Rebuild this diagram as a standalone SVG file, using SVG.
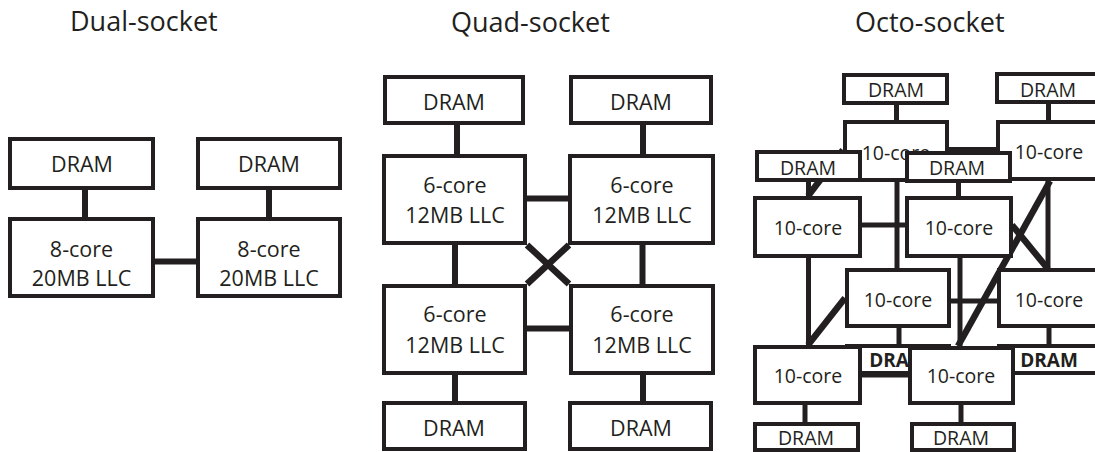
<svg xmlns="http://www.w3.org/2000/svg" width="1095" height="452" viewBox="0 0 1095 452">
<style>
.box{fill:#fff;stroke:#231f20;stroke-width:4}
.t{font-family:"Open Sans","Liberation Sans",sans-serif;fill:#231f20;text-anchor:middle}
.l{font-size:21.5px}
.s{font-size:19.5px}
.b{font-size:19px;font-weight:bold}
.title{font-family:"Open Sans","Liberation Sans",sans-serif;fill:#231f20;font-size:27px}
.c{stroke:#231f20;stroke-width:6;fill:none}
.c5{stroke:#231f20;stroke-width:5;fill:none}
.d{stroke:#231f20;stroke-width:6.5;fill:none}
</style>
<rect width="1095" height="452" fill="#fff"/>
<text class="title" x="70" y="31">Dual-socket</text>
<text class="title" x="451" y="32">Quad-socket</text>
<text class="title" x="855" y="32">Octo-socket</text>

<g id="connectors">
  <!-- dual -->
  <line class="c" x1="85" y1="190" x2="85" y2="217"/>
  <line class="c" x1="269" y1="190" x2="269" y2="217"/>
  <line class="c" x1="155" y1="261.5" x2="196" y2="261.5"/>
  <!-- quad -->
  <line class="c" x1="457" y1="125" x2="457" y2="154"/>
  <line class="c" x1="643" y1="125" x2="643" y2="154"/>
  <line class="c" x1="527" y1="198.5" x2="568" y2="198.5"/>
  <line class="c" x1="455" y1="245" x2="455" y2="284"/>
  <line class="c" x1="642.5" y1="245" x2="642.5" y2="284"/>
  <line class="c" x1="527" y1="328.5" x2="569" y2="328.5"/>
  <line class="d" x1="527" y1="245" x2="569" y2="284"/>
  <line class="d" x1="569" y1="245" x2="527" y2="284"/>
  <line class="c" x1="455" y1="375" x2="455" y2="401"/>
  <line class="c" x1="643" y1="375" x2="643" y2="401"/>
  <!-- octo -->
  <line class="c5" x1="896.5" y1="105" x2="896.5" y2="120"/>
  <line class="c5" x1="1048.5" y1="104" x2="1048.5" y2="120"/>
  <line class="c5" x1="949" y1="149.5" x2="996" y2="149.5"/>
  <line class="c5" x1="897" y1="182" x2="897" y2="268"/>
  <line class="c5" x1="1048" y1="181" x2="1048" y2="268"/>
  <line class="c5" x1="951" y1="301" x2="997" y2="301"/>
  <line class="c5" x1="899" y1="328" x2="899" y2="344"/>
  <line class="c5" x1="1049" y1="328" x2="1049" y2="344"/>
  <line class="c5" x1="808.5" y1="182" x2="808.5" y2="196"/>
  <line class="c5" x1="958.5" y1="183" x2="958.5" y2="196"/>
  <line class="c5" x1="862" y1="225" x2="905" y2="225"/>
  <line class="c5" x1="808.5" y1="258" x2="808.5" y2="345"/>
  <line class="c5" x1="960" y1="258" x2="960" y2="346"/>
  <line class="c5" x1="862" y1="375" x2="908" y2="375"/>
  <line class="c5" x1="805" y1="405" x2="805" y2="422"/>
  <line class="c5" x1="961" y1="405" x2="961" y2="422"/>
  <line class="d" x1="843" y1="150" x2="808" y2="196"/>
  <line class="d" x1="845" y1="298" x2="808" y2="345"/>
  <line class="d" x1="1050" y1="181" x2="958" y2="346"/>
  <line class="d" x1="1012" y1="225" x2="1048" y2="269"/>
</g>

<!-- Dual-socket -->
<g id="dual-dram-1"><rect class="box" x="10" y="139" width="143" height="49"/><text class="t l" x="82" y="172">DRAM</text></g>
<g id="dual-dram-2"><rect class="box" x="198" y="139" width="142" height="49"/><text class="t l" x="269" y="172">DRAM</text></g>
<g id="dual-cpu-1"><rect class="box" x="10" y="219" width="143" height="77"/><text class="t l" x="81.5" y="257">8-core</text><text class="t l" x="81.5" y="286">20MB LLC</text></g>
<g id="dual-cpu-2"><rect class="box" x="198" y="219" width="142" height="77"/><text class="t l" x="269" y="257">8-core</text><text class="t l" x="269" y="286">20MB LLC</text></g>

<!-- Quad-socket -->
<g id="quad-dram-tl"><rect class="box" x="385" y="77" width="138" height="46"/><text class="t l" x="454" y="110">DRAM</text></g>
<g id="quad-dram-tr"><rect class="box" x="571" y="77" width="140" height="46"/><text class="t l" x="641" y="110">DRAM</text></g>
<g id="quad-cpu-tl"><rect class="box" x="384" y="156" width="141" height="87"/><text class="t l" x="455" y="193">6-core</text><text class="t l" x="455" y="223">12MB LLC</text></g>
<g id="quad-cpu-tr"><rect class="box" x="570" y="156" width="143" height="87"/><text class="t l" x="642" y="193">6-core</text><text class="t l" x="642" y="223">12MB LLC</text></g>
<g id="quad-cpu-bl"><rect class="box" x="384" y="286" width="141" height="87"/><text class="t l" x="455" y="322">6-core</text><text class="t l" x="455" y="353">12MB LLC</text></g>
<g id="quad-cpu-br"><rect class="box" x="571" y="286" width="142" height="87"/><text class="t l" x="642" y="322">6-core</text><text class="t l" x="642" y="353">12MB LLC</text></g>
<g id="quad-dram-bl"><rect class="box" x="384" y="403" width="141" height="46"/><text class="t l" x="454" y="436">DRAM</text></g>
<g id="quad-dram-br"><rect class="box" x="570" y="403" width="141" height="46"/><text class="t l" x="641" y="436">DRAM</text></g>

<!-- Octo-socket: back layer -->
<g id="octo-back-dram-tl"><rect class="box" x="844" y="75" width="103" height="28"/><text class="t s" x="896" y="97">DRAM</text></g>
<g id="octo-back-dram-tr"><rect class="box" x="997" y="74" width="103" height="28"/><text class="t s" x="1048" y="97">DRAM</text></g>
<g id="octo-back-cpu-tl"><rect class="box" x="845" y="122" width="102" height="58"/><text class="t s" x="896" y="160">10-core</text></g>
<g id="octo-back-cpu-tr"><rect class="box" x="998" y="122" width="102" height="57"/><text class="t s" x="1049" y="158.5">10-core</text></g>
<g id="octo-back-cpu-bl"><rect class="box" x="847" y="270" width="102" height="56"/><text class="t s" x="898" y="307">10-core</text></g>
<g id="octo-back-cpu-br"><rect class="box" x="999" y="270" width="102" height="56"/><text class="t s" x="1049" y="307">10-core</text></g>
<g id="octo-back-dram-bl"><rect class="box" x="847" y="346" width="102" height="27"/><text class="t b" x="898" y="367">DRAM</text></g>
<g id="octo-back-dram-br"><rect class="box" x="999" y="346" width="102" height="27"/><text class="t b" x="1049" y="367">DRAM</text></g>

<!-- Octo-socket: front layer -->
<g id="octo-front-dram-tl"><rect class="box" x="757" y="152" width="103" height="28"/><text class="t s" x="808" y="175">DRAM</text></g>
<g id="octo-front-dram-tr"><rect class="box" x="907" y="153" width="103" height="28"/><text class="t s" x="957" y="175">DRAM</text></g>
<g id="octo-front-cpu-tl"><rect class="box" x="755" y="198" width="105" height="58"/><text class="t s" x="808" y="235">10-core</text></g>
<g id="octo-front-cpu-tr"><rect class="box" x="907" y="198" width="104" height="58"/><text class="t s" x="959" y="235">10-core</text></g>
<g id="octo-front-cpu-bl"><rect class="box" x="755" y="347" width="105" height="56"/><text class="t s" x="808" y="383">10-core</text></g>
<g id="octo-front-cpu-br"><rect class="box" x="910" y="348" width="103" height="55"/><text class="t s" x="961" y="383">10-core</text></g>
<g id="octo-front-dram-bl"><rect class="box" x="755" y="424" width="103" height="26"/><text class="t s" x="806" y="445">DRAM</text></g>
<g id="octo-front-dram-br"><rect class="box" x="912" y="424" width="102" height="26"/><text class="t s" x="961" y="445">DRAM</text></g>
</svg>
